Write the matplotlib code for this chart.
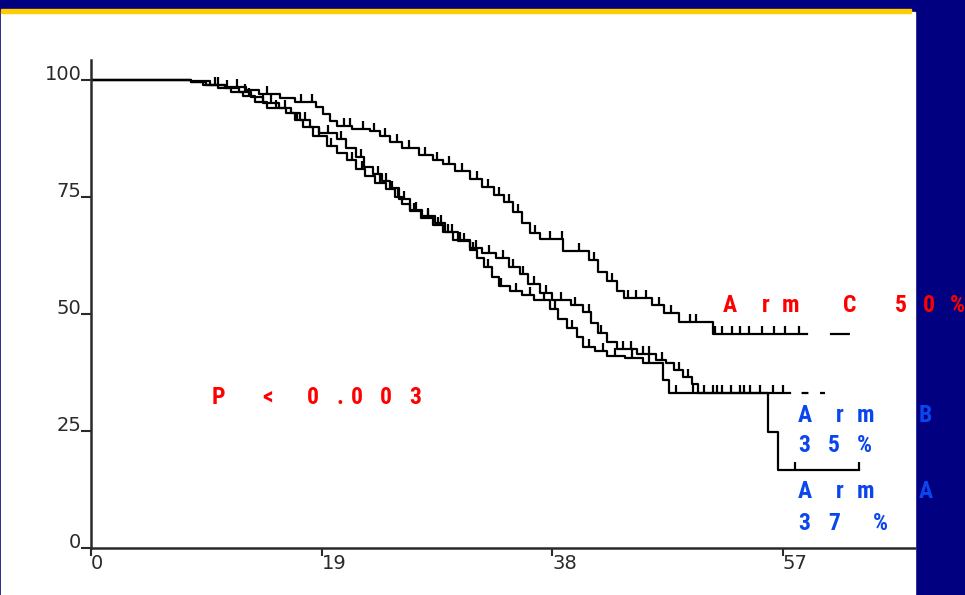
import numpy as np
import matplotlib.pyplot as plt
from matplotlib.patches import Rectangle

# survival curves (months, % event free)
arm_c_time = [0, 8.2, 9.5, 11, 12.8, 13.8, 15.6, 16.8, 18.5, 19.1, 19.7, 20.3, 21.5, 23, 23.8,
              24.6, 25.6, 27, 28.2, 29, 30, 31.2, 32.2, 33.2, 34, 34.8, 35.5, 36.2, 37, 38.9,
              41, 41.8, 42.5, 43.3, 43.9, 46.2, 47.2, 48.4, 51.2]
arm_c_surv = [100, 99.5, 99, 98.5, 97.8, 97, 96.2, 95.2, 94.2, 92.8, 91.2, 90.2, 89.6, 89, 88,
              86.8, 85.5, 84, 83, 82, 80.5, 78.8, 77.2, 75.5, 74, 71.8, 69.5, 67.3, 66, 63.5,
              61.5, 59, 57, 55, 53.5, 52, 50.2, 48.3, 45.8]
arm_c_cens = [10.2, 12, 14.5, 17.3, 18.2, 20.8, 21.3, 22.4, 23.3, 24.2, 25.2, 26.2, 27.5, 28.5,
              29.5, 30.6, 31.8, 32.7, 33.6, 34.4, 35.2, 36.6, 37.8, 38.8, 40.2, 41.4, 42.9, 44.2,
              44.9, 45.7, 46.8, 47.8, 49.3, 49.8, 51.4, 52, 52.8, 53.5, 54.2, 55.3, 56.3, 57.2, 58.3]
arm_c_solid_end = 59.0
arm_c_tail_end = 62.5

arm_b_time = [0, 8.2, 9.8, 11, 12.2, 13.2, 14.2, 15.5, 16.5, 17.2, 18, 18.8, 20.3, 21, 21.8,
              22.5, 23.2, 24, 24.6, 25.4, 26.3, 27.3, 28.3, 29.2, 30.2, 31.2, 32.2, 33.4, 34.4,
              35.3, 36, 37, 38, 39.5, 40.5, 41.2, 41.8, 42.5, 43.3, 45, 46.5, 47.4, 48, 48.8,
              49.5, 50]
arm_b_surv = [100, 99.7, 99, 98.3, 97.4, 96.3, 95, 94, 93, 91.5, 90, 88.7, 87.5, 85.5, 83.5,
              81.5, 80, 78.5, 77, 74.5, 72.2, 71, 69.5, 67.5, 65.5, 64, 63, 62, 60,
              58.5, 56.5, 54.5, 53, 52, 50.5, 48, 46, 44, 42.5, 41.5, 40.2, 39.5, 38, 36.5,
              35, 33.1]
arm_b_cens = [10.5, 12.7, 14.8, 16, 17.6, 19.5, 20.6, 22.2, 23.6, 24.3, 25.8, 26.8, 27.8, 28.8,
              29.7, 30.7, 31.7, 32.8, 33.9, 34.8, 35.6, 36.5, 37.5, 38.7, 39.9, 41, 42, 43.8,
              44.5, 45.5, 46, 47, 48.4, 49.2, 50.5, 51.2, 52, 52.7, 53.5, 54.3, 55.1, 56.2, 57]
arm_b_solid_end = 57.6
arm_b_tail_end = 60.5

arm_a_time = [0, 8.2, 9.2, 10.5, 11.5, 12.5, 13.5, 14.5, 16.1, 16.8, 17.5, 18.3, 19.4, 20.3,
              21.1, 21.8, 22.6, 23.4, 24.3, 25, 25.6, 26.3, 27.2, 28.2, 29, 29.8, 31.2, 31.8,
              32.4, 33, 33.6, 34.5, 35.5, 36.5, 37.8, 38.5, 39.2, 40, 40.5, 41.5, 42.5, 44,
              45.5, 47.1, 47.6, 55.8, 56.6]
arm_a_surv = [100, 99.5, 99, 98.2, 97.4, 96.5, 95.2, 94, 93, 91.5, 90, 88, 86, 84.5,
              83, 81, 79.5, 78, 76.8, 75, 73.5, 72, 70.5, 69, 67.5, 65.8, 63.7, 62,
              60, 58, 56, 55, 54, 53, 51, 49, 47, 45, 43, 42, 41, 40.5,
              39.5, 36, 33.1, 24.8, 16.7]
arm_a_cens = [11.2, 13, 14.2, 15.2, 17, 18.8, 19.8, 21.5, 22.3, 23.8, 24.8, 25.3, 26.6, 27.8,
              28.6, 29.4, 30.4, 31.5, 32.7, 33.8, 35, 36.2, 37.3, 38.2, 39.6, 41, 42.2, 43.2,
              44.6, 46, 48.2, 49.6, 51.6, 53.8, 58, 63.3]
arm_a_end = 63.3

x_ticks = [0, 19, 38, 57]
y_ticks = [0, 25, 50, 75, 100]

W, H = 965, 595
navy = '#000080'
red = '#ff0000'
blue = '#0a46ee'
axis_col = '#2a2a2a'
label_font = ['Roboto Condensed', 'DejaVu Sans']


def surv_at(times, surv, t):
    idx = np.searchsorted(times, t, side='right') - 1
    return np.asarray(surv)[idx]


fig = plt.figure(figsize=(W / 100, H / 100), dpi=100, facecolor=navy)
# white slide panel with the yellow rule on top
fig.patches.append(Rectangle((1 / W, 0), 914 / W, 1 - 12 / H, transform=fig.transFigure,
                             color='white', zorder=-2))
fig.patches.append(Rectangle((1 / W, 1 - 12.5 / H), 910 / W, 3.5 / H, transform=fig.transFigure,
                             color='#ffcc00', zorder=-1))

ax = fig.add_axes([91 / W, 1 - 548 / H, 824 / W, 488 / H])
ax.set_facecolor('none')
ax.set_xlim(0, 824 / 12.14)
ax.set_ylim(0, 100 + 20 / 4.68)

arms = [
    (arm_c_time, arm_c_surv, arm_c_cens, arm_c_solid_end),
    (arm_b_time, arm_b_surv, arm_b_cens, arm_b_solid_end),
    (arm_a_time, arm_a_surv, arm_a_cens, arm_a_end),
]
for times, surv, cens, solid_end in arms:
    ax.step(times + [solid_end], surv + [surv[-1]], where='post', color='black', lw=1.6)
    ax.plot(cens, surv_at(times, surv, cens), ls='none', marker=2, ms=6, mew=1.6,
            color='black')

# dashed tails where few patients remain (dash lengths are in units of line width)
ax.plot([arm_c_solid_end, arm_c_tail_end], [arm_c_surv[-1]] * 2, color='black', lw=1.6,
        ls=(9, (9, 10.3)))
ax.plot([arm_b_solid_end, arm_b_tail_end], [arm_b_surv[-1]] * 2, color='black', lw=1.6,
        ls=(3.1, (3.1, 5.2)))

for side in ['top', 'right']:
    ax.spines[side].set_visible(False)
for side in ['left', 'bottom']:
    ax.spines[side].set_color(axis_col)
    ax.spines[side].set_linewidth(1.8)

ax.set_xticks(x_ticks)
ax.set_xticklabels([str(v) for v in x_ticks])
ax.set_yticks(y_ticks)
ax.set_yticklabels([str(v) for v in y_ticks])
ax.tick_params(axis='x', direction='out', length=5.5, width=1.5, color=axis_col, pad=-1,
               labelsize=14, labelcolor=axis_col)
ax.tick_params(axis='y', direction='out', length=7, width=1.5, color=axis_col, pad=0,
               labelsize=14, labelcolor=axis_col)
for lbl in ax.get_xticklabels():
    lbl.set_ha('left')
for lbl in ax.get_yticklabels():
    lbl.set_va('baseline')


def put(chars, xs, y, color):
    # the slide spreads every letter out, so each one is placed on its own
    for ch, x in zip(chars, xs):
        fig.text(x / W, 1 - y / H, ch, color=color, fontsize=17, fontweight='bold',
                 family=label_font, ha='left', va='baseline')


put('ArmC50%', [723, 762, 782, 843, 895, 923, 950], 312, red)
put('P<0.003', [212, 262, 307, 336, 351, 380, 409], 404, red)
put('ArmB', [798, 836, 857, 919], 422, blue)
put('35%', [798, 828, 857], 452, blue)
put('ArmA', [798, 836, 857, 919], 498, blue)
put('37%', [798, 828, 873], 530, blue)

fig.savefig('out.png', dpi=100, facecolor=navy)
